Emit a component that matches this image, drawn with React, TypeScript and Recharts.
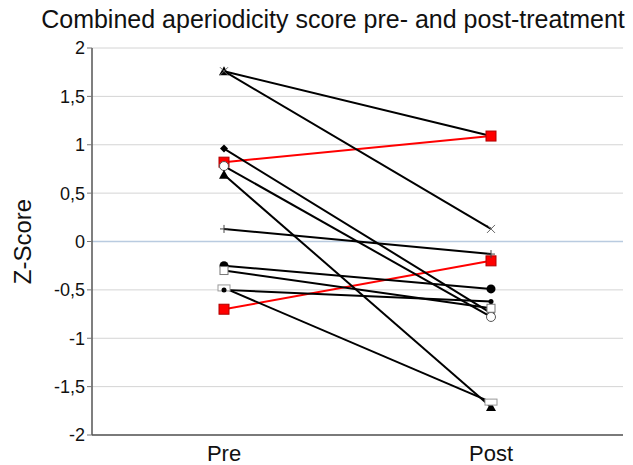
import React from "react";
import {
  CartesianGrid,
  Label,
  Line,
  LineChart,
  ReferenceLine,
  XAxis,
  YAxis,
} from "recharts";

const categories = ["Pre", "Post"];
// one entry per patient: score before and after treatment
const preScores = [1.76, 1.76, 0.96, 0.78, 0.69, 0.13, -0.25, -0.3, -0.48, -0.5];
const postScores = [1.09, 0.13, -0.74, -0.78, -1.71, -0.13, -0.49, -0.69, -1.66, -0.62];
const redPre = [0.82, -0.7];
const redPost = [1.09, -0.2];
const yTicks = [-2, -1.5, -1, -0.5, 0, 0.5, 1, 1.5, 2];

const blackMarkers = [
  "triangle",
  "cross",
  "diamond",
  "openCircle",
  "triangle",
  "plus",
  "circle",
  "openSquare",
  "openRect",
  "dash",
];

const rows = categories.map((cat, i) => {
  const row: Record<string, string | number> = { cat };
  preScores.forEach((_, s) => {
    row[`b${s}`] = i === 0 ? preScores[s] : postScores[s];
  });
  redPre.forEach((_, s) => {
    row[`r${s}`] = i === 0 ? redPre[s] : redPost[s];
  });
  return row;
});

function marker(shape: string) {
  return (props: any) => {
    const { cx, cy, index, dataKey } = props;
    const key = `${dataKey}-${index}`;
    if (cx == null || cy == null) return <g key={key} />;
    switch (shape) {
      case "triangle":
        return (
          <polygon
            key={key}
            points={`${cx},${cy - 5} ${cx - 5},${cy + 4} ${cx + 5},${cy + 4}`}
            fill="#000"
          />
        );
      case "cross":
        return (
          <g key={key} stroke="#666" strokeWidth={1}>
            <line x1={cx - 4} y1={cy - 4} x2={cx + 4} y2={cy + 4} />
            <line x1={cx - 4} y1={cy + 4} x2={cx + 4} y2={cy - 4} />
          </g>
        );
      case "diamond":
        return (
          <polygon
            key={key}
            points={`${cx},${cy - 4} ${cx + 4},${cy} ${cx},${cy + 4} ${cx - 4},${cy}`}
            fill="#000"
          />
        );
      case "openCircle":
        return <circle key={key} cx={cx} cy={cy} r={4.5} fill="#fff" stroke="#555" />;
      case "plus":
        return (
          <g key={key} stroke="#444" strokeWidth={1}>
            <line x1={cx - 4} y1={cy} x2={cx + 4} y2={cy} />
            <line x1={cx} y1={cy - 4} x2={cx} y2={cy + 4} />
          </g>
        );
      case "circle":
        return <circle key={key} cx={cx} cy={cy} r={4.5} fill="#000" />;
      case "openSquare":
        return (
          <rect key={key} x={cx - 4} y={cy - 4} width={8} height={8} fill="#fff" stroke="#777" />
        );
      case "openRect":
        return (
          <rect key={key} x={cx - 6} y={cy - 3} width={12} height={6} fill="#fff" stroke="#999" />
        );
      case "dash":
        return <circle key={key} cx={cx} cy={cy} r={2.5} fill="#000" />;
      case "redSquare":
        return (
          <rect key={key} x={cx - 5} y={cy - 5} width={10} height={10} fill="#ff0000" stroke="#b00000" />
        );
      default:
        return <g key={key} />;
    }
  };
}

const font = "Liberation Sans, Arial, sans-serif";
const catPad = { left: 132, right: 132 };

export default function App() {
  return (
    <div style={{ position: "absolute", left: 0, top: 0, width: 633, height: 465, background: "#fff", fontFamily: font }}>
      <div
        style={{
          position: "absolute",
          left: 0,
          top: 5,
          width: 666,
          textAlign: "center",
          fontSize: 25,
          color: "#111",
          whiteSpace: "nowrap",
        }}
      >
        Combined aperiodicity score pre- and post-treatment
      </div>
      <LineChart
        width={633}
        height={465}
        data={rows}
        margin={{ top: 48, right: 10, bottom: 0, left: 0 }}
      >
        <CartesianGrid vertical={false} stroke="#d4d4d4" strokeWidth={1} />
        <ReferenceLine y={0} stroke="#b9cbe0" strokeWidth={1.5} />
        <XAxis
          dataKey="cat"
          height={30}
          padding={catPad}
          tickLine={false}
          axisLine={{ stroke: "#555", strokeWidth: 1.5 }}
          tick={{ fontSize: 22, fill: "#111", fontFamily: font }}
          tickMargin={4}
        />
        <XAxis
          xAxisId="top"
          dataKey="cat"
          orientation="top"
          height={0}
          padding={catPad}
          tick={false}
          tickLine={false}
          axisLine={{ stroke: "#555", strokeWidth: 1.5 }}
        />
        <YAxis
          domain={[-2, 2]}
          ticks={yTicks}
          width={92}
          tickSize={5}
          tickLine={{ stroke: "#777" }}
          axisLine={{ stroke: "#555", strokeWidth: 1.5 }}
          tick={{ fontSize: 18, fill: "#111", fontFamily: font }}
          tickFormatter={(v: number) => String(v).replace(".", ",")}
          interval={0}
        >
          <Label
            value="Z-Score"
            angle={-90}
            position="insideLeft"
            offset={22}
            style={{ textAnchor: "middle", fontSize: 24, fill: "#111", fontFamily: font }}
          />
        </YAxis>
        <YAxis
          yAxisId="right"
          orientation="right"
          domain={[-2, 2]}
          width={0}
          tick={false}
          tickLine={false}
          axisLine={{ stroke: "#555", strokeWidth: 1.5 }}
        />
        <Line
          dataKey="b0"
          stroke="#000"
          strokeWidth={2}
          dot={marker(blackMarkers[0])}
          isAnimationActive={false}
        />
        {redPre.map((_, s) => (
          <Line
            key={`r${s}`}
            dataKey={`r${s}`}
            stroke="#ff0000"
            strokeWidth={2}
            dot={marker("redSquare")}
            isAnimationActive={false}
          />
        ))}
        {preScores.slice(1).map((_, i) => (
          <Line
            key={`b${i + 1}`}
            dataKey={`b${i + 1}`}
            stroke="#000"
            strokeWidth={2}
            dot={marker(blackMarkers[i + 1])}
            isAnimationActive={false}
          />
        ))}
      </LineChart>
    </div>
  );
}
